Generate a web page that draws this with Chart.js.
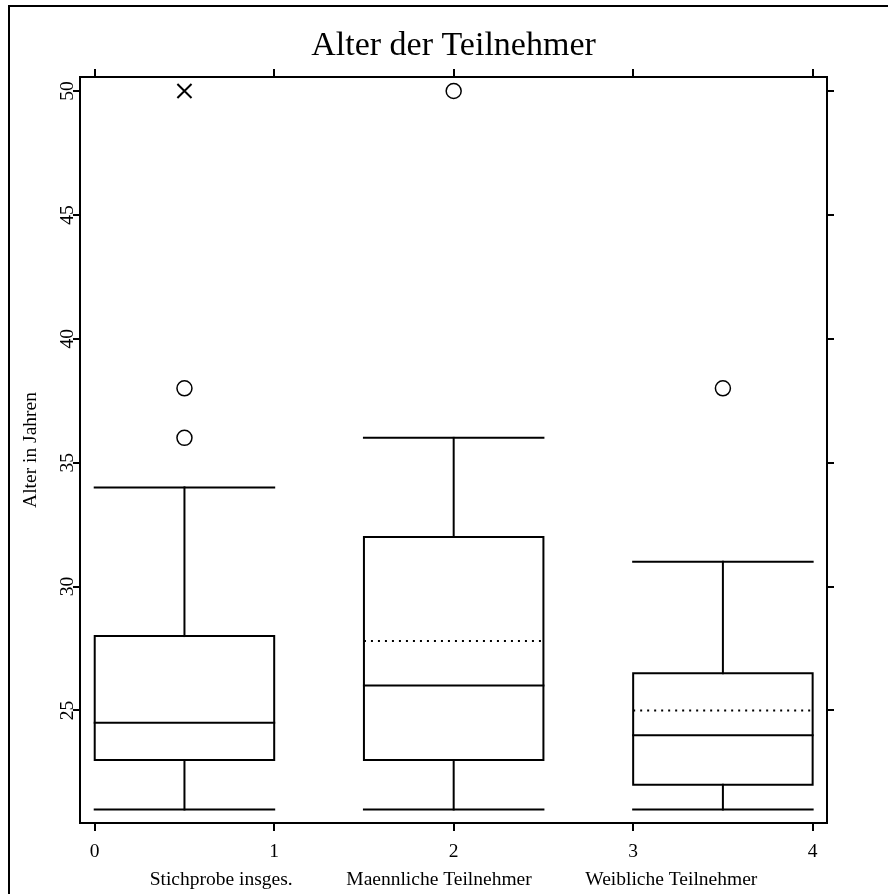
<!DOCTYPE html>
<html>
<head>
<meta charset="utf-8">
<script src="https://cdn.jsdelivr.net/npm/chart.js@4.4.1/dist/chart.umd.min.js"></script>
<style>
  body { margin: 0; background: #fff; overflow: hidden; }
</style>
</head>
<body>
<canvas id="myChart" width="888" height="894"></canvas>
<script>
// box plot data
const groups = ["Stichprobe insges.", "Maennliche Teilnehmer", "Weibliche Teilnehmer"];
const groupPos = [0.5, 2, 3.5];
const whiskerLow = [21, 21, 21];
const q1 = [23, 23, 22];
const medians = [24.5, 26, 24];
const q3 = [28, 32, 26.5];
const whiskerHigh = [34, 36, 31];
const means = [null, 27.8, 25];
const outliers = [[36, 38], [50], [38]];
const extremes = [[50], [], []];

const xTicks = [0, 1, 2, 3, 4];
const yTicks = [25, 30, 35, 40, 45, 50];

const serif = "'Liberation Serif', 'Times New Roman', serif";
Chart.defaults.font.family = serif;
Chart.defaults.color = "#000";

function segment(points, dash) {
  return {
    data: points,
    showLine: true,
    borderColor: "#000",
    borderWidth: 2,
    borderDash: dash || [],
    borderCapStyle: dash ? "butt" : "square",
    pointRadius: 0,
    pointHoverRadius: 0,
    fill: false,
  };
}

let datasets = [];
for (let i = 0; i < groups.length; i++) {
  const c = groupPos[i];
  const l = c - 0.5;
  const r = c + 0.5;
  // box
  datasets.push(segment([
    { x: l, y: q1[i] }, { x: r, y: q1[i] }, { x: r, y: q3[i] },
    { x: l, y: q3[i] }, { x: l, y: q1[i] },
  ]));
  // median
  datasets.push(segment([{ x: l, y: medians[i] }, { x: r, y: medians[i] }]));
  // mean (dotted)
  if (means[i] !== null) {
    datasets.push(segment([{ x: l, y: means[i] }, { x: r, y: means[i] }], [2, 5]));
  }
  // whiskers
  datasets.push(segment([{ x: c, y: q1[i] }, { x: c, y: whiskerLow[i] }]));
  datasets.push(segment([{ x: l, y: whiskerLow[i] }, { x: r, y: whiskerLow[i] }]));
  datasets.push(segment([{ x: c, y: q3[i] }, { x: c, y: whiskerHigh[i] }]));
  datasets.push(segment([{ x: l, y: whiskerHigh[i] }, { x: r, y: whiskerHigh[i] }]));
  // outliers
  datasets.push({
    data: outliers[i].map(v => ({ x: c, y: v })),
    showLine: false,
    pointStyle: "circle",
    pointRadius: 7.5,
    pointBorderWidth: 1.5,
    pointBorderColor: "#000",
    pointBackgroundColor: "rgba(0,0,0,0)",
  });
  datasets.push({
    data: extremes[i].map(v => ({ x: c, y: v })),
    showLine: false,
    pointStyle: "crossRot",
    pointRadius: 10,
    pointBorderWidth: 2,
    pointBorderColor: "#000",
  });
}

const tickFont = { family: serif, size: 19.5 };

function setTicks(list) {
  return function (scale) {
    scale.ticks = list.map(v => ({ value: v }));
  };
}

const framePlugin = {
  id: "frame",
  afterDraw(chart) {
    const ctx = chart.ctx;
    const area = chart.chartArea;
    ctx.save();
    // outer frame (cut off at right and bottom)
    ctx.strokeStyle = "#000";
    ctx.lineWidth = 2;
    ctx.beginPath();
    ctx.moveTo(9, chart.height);
    ctx.lineTo(9, 6);
    ctx.lineTo(chart.width, 6);
    ctx.stroke();

    // title
    ctx.fillStyle = "#000";
    ctx.font = "34px " + serif;
    ctx.textAlign = "center";
    ctx.textBaseline = "alphabetic";
    ctx.fillText("Alter der Teilnehmer", (area.left + area.right) / 2, 55);

    // rotated y tick labels
    const yScale = chart.scales.y;
    ctx.font = "19.5px " + serif;
    for (const v of yTicks) {
      ctx.save();
      ctx.translate(area.left - 7, yScale.getPixelForValue(v));
      ctx.rotate(-Math.PI / 2);
      ctx.textAlign = "center";
      ctx.textBaseline = "alphabetic";
      ctx.fillText(String(v), 0, 0);
      ctx.restore();
    }
    ctx.restore();
  },
};

const axisBorder = { display: true, color: "#000", width: 2 };

const ctx = document.getElementById("myChart").getContext("2d");
const myChart = new Chart(ctx, {
  type: "scatter",
  data: { datasets: datasets },
  options: {
    responsive: false,
    animation: false,
    events: [],
    layout: { padding: 0 },
    plugins: {
      legend: { display: false },
      tooltip: { enabled: false },
      title: { display: false },
    },
    scales: {
      x: {
        type: "linear",
        position: "bottom",
        min: -0.082,
        max: 4.08,
        afterBuildTicks: setTicks(xTicks),
        afterFit(scale) { scale.height = 71; },
        border: axisBorder,
        grid: { drawOnChartArea: false, color: "#000", tickLength: 8, lineWidth: 2 },
        ticks: { font: tickFont, padding: 9, maxRotation: 0, color: "#000" },
        title: {
          display: true,
          text: groups.join(" ".repeat(11)),
          font: tickFont,
          color: "#000",
          padding: { top: 0, bottom: 2 },
        },
      },
      x2: {
        type: "linear",
        position: "top",
        min: -0.082,
        max: 4.08,
        afterBuildTicks: setTicks(xTicks),
        afterFit(scale) { scale.height = 77; },
        border: axisBorder,
        grid: { drawOnChartArea: false, color: "#000", tickLength: 8, lineWidth: 2 },
        ticks: { display: false },
      },
      y: {
        type: "linear",
        position: "left",
        min: 20.455,
        max: 50.565,
        afterBuildTicks: setTicks(yTicks),
        afterFit(scale) { scale.width = 80; },
        border: axisBorder,
        grid: { drawOnChartArea: false, color: "#000", tickLength: 7, lineWidth: 2 },
        ticks: { display: false },
        title: {
          display: true,
          text: "Alter in Jahren",
          font: tickFont,
          color: "#000",
          padding: { top: 19, bottom: 0 },
        },
      },
      y2: {
        type: "linear",
        position: "right",
        min: 20.455,
        max: 50.565,
        afterBuildTicks: setTicks(yTicks),
        afterFit(scale) { scale.width = 61; },
        border: axisBorder,
        grid: { drawOnChartArea: false, color: "#000", tickLength: 7, lineWidth: 2 },
        ticks: { display: false },
      },
    },
  },
  plugins: [framePlugin],
});
</script>
</body>
</html>
